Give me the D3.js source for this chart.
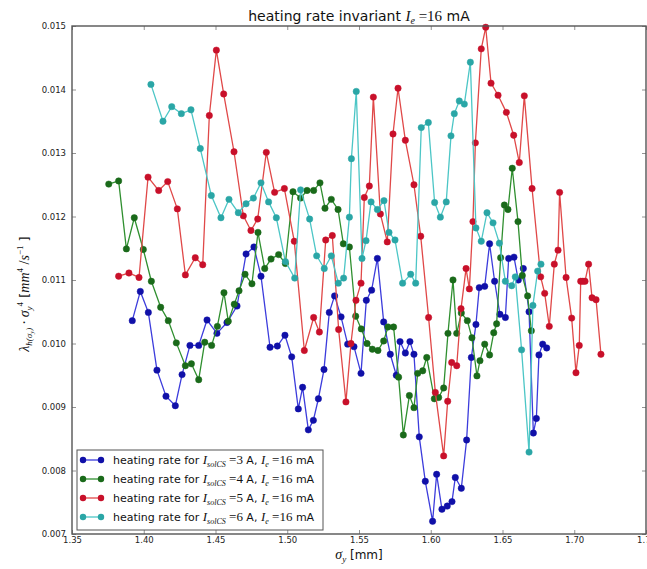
<!DOCTYPE html>
<html>
<head>
<meta charset="utf-8">
<script src="https://cdn.jsdelivr.net/npm/d3@7"></script>
<style>
  body { margin: 0; background: #fff; }
  svg { display: block; }
</style>
</head>
<body>
<script>
'use strict';

// sigma_y [mm] and heating rate invariant, one pair per solenoid current
const sigma3 = [1.3920, 1.3976, 1.4032, 1.4092, 1.4155, 1.4220, 1.4267, 1.4322, 1.4383, 1.4441,
  1.4510, 1.4580, 1.4650, 1.4713, 1.4768, 1.4817, 1.4880, 1.4931, 1.4984, 1.5031,
  1.5077, 1.5107, 1.5147, 1.5182, 1.5217, 1.5256, 1.5293, 1.5330, 1.5375, 1.5421,
  1.5465, 1.5514, 1.5551, 1.5588, 1.5628, 1.5672, 1.5718, 1.5760, 1.5786, 1.5823,
  1.5855, 1.5883, 1.5920, 1.5962, 1.6013, 1.6041, 1.6078, 1.6115, 1.6148, 1.6171,
  1.6213, 1.6250, 1.6283, 1.6315, 1.6338, 1.6376, 1.6410, 1.6445, 1.6482, 1.6520,
  1.6543, 1.6580, 1.6610, 1.6645, 1.6685, 1.6715, 1.6736, 1.6754, 1.6780, 1.6808];
const rate3 = [0.01036, 0.01082, 0.01049, 0.00958, 0.00917, 0.00902, 0.00951, 0.00997, 0.00997, 0.01037,
  0.01016, 0.01033, 0.01059, 0.01141, 0.01152, 0.01106, 0.00994, 0.00996, 0.01013, 0.00979,
  0.00897, 0.00931, 0.00864, 0.00879, 0.00913, 0.00959, 0.01049, 0.01075, 0.01042, 0.00999,
  0.00995, 0.00953, 0.01068, 0.01084, 0.01134, 0.01034, 0.00983, 0.00950, 0.01003, 0.00985,
  0.01003, 0.00983, 0.00853, 0.00783, 0.00720, 0.00794, 0.00739, 0.00744, 0.00751, 0.00789,
  0.00772, 0.00848, 0.00978, 0.01030, 0.01088, 0.01090, 0.01157, 0.01098, 0.01046, 0.01041,
  0.01134, 0.01136, 0.01100, 0.01118, 0.01050, 0.00859, 0.00882, 0.00982, 0.00999, 0.00993];

const sigma4 = [1.3756, 1.3825, 1.3879, 1.3934, 1.3997, 1.4053, 1.4118, 1.4171, 1.4227, 1.4290,
  1.4332, 1.4383, 1.4425, 1.4473, 1.4513, 1.4559, 1.4589, 1.4631, 1.4664, 1.4706,
  1.4754, 1.4796, 1.4843, 1.4887, 1.4940, 1.4987, 1.5040, 1.5093, 1.5138, 1.5184,
  1.5228, 1.5263, 1.5307, 1.5354, 1.5391, 1.5433, 1.5477, 1.5516, 1.5556, 1.5593,
  1.5632, 1.5672, 1.5702, 1.5741, 1.5776, 1.5809, 1.5851, 1.5883, 1.5909, 1.5944,
  1.5972, 1.6025, 1.6055, 1.6090, 1.6120, 1.6155, 1.6181, 1.6213, 1.6255, 1.6287,
  1.6322, 1.6343, 1.6376, 1.6410, 1.6439, 1.6459, 1.6487, 1.6513, 1.6538, 1.6568,
  1.6608, 1.6638, 1.6675, 1.6701];
const rate4 = [0.01251, 0.01256, 0.01149, 0.01198, 0.01148, 0.01098, 0.01057, 0.01036, 0.01001, 0.00965,
  0.00968, 0.00943, 0.01002, 0.00997, 0.01027, 0.01080, 0.01035, 0.01062, 0.01083, 0.01109,
  0.01094, 0.01175, 0.01118, 0.01133, 0.01140, 0.01126, 0.01239, 0.01229, 0.01241, 0.01241,
  0.01253, 0.01213, 0.01227, 0.01211, 0.01157, 0.01152, 0.01043, 0.01023, 0.01000, 0.00991,
  0.00989, 0.01004, 0.01026, 0.01026, 0.00947, 0.00856, 0.00918, 0.00899, 0.00953, 0.00957,
  0.00978, 0.00913, 0.00915, 0.00930, 0.01016, 0.01100, 0.01016, 0.01048, 0.01036, 0.01009,
  0.00949, 0.00973, 0.00999, 0.00982, 0.01017, 0.01031, 0.01135, 0.01218, 0.01211, 0.01276,
  0.01192, 0.01107, 0.01075, 0.01020];

const sigma5 = [1.3825, 1.3897, 1.3967, 1.4030, 1.4104, 1.4167, 1.4234, 1.4290, 1.4359, 1.4411,
  1.4457, 1.4506, 1.4557, 1.4629, 1.4694, 1.4747, 1.4794, 1.4854, 1.4912, 1.4980,
  1.5049, 1.5119, 1.5184, 1.5224, 1.5268, 1.5314, 1.5358, 1.5409, 1.5444, 1.5479,
  1.5514, 1.5537, 1.5572, 1.5600, 1.5649, 1.5697, 1.5737, 1.5772, 1.5823, 1.5883,
  1.5930, 1.5985, 1.6032, 1.6090, 1.6118, 1.6146, 1.6181, 1.6211, 1.6246, 1.6269,
  1.6294, 1.6311, 1.6352, 1.6383, 1.6420, 1.6469, 1.6527, 1.6578, 1.6617, 1.6652,
  1.6706, 1.6766, 1.6794, 1.6826, 1.6861, 1.6887, 1.6898, 1.6943, 1.6982, 1.7012,
  1.7035, 1.7045, 1.7060, 1.7075, 1.7100, 1.7124, 1.7152, 1.7186];
const rate5 = [0.01106, 0.01111, 0.01104, 0.01262, 0.01241, 0.01255, 0.01212, 0.01108, 0.01135, 0.01124,
  0.01359, 0.01462, 0.01393, 0.01302, 0.01201, 0.01178, 0.01196, 0.01301, 0.01238, 0.01244,
  0.01161, 0.00989, 0.01041, 0.01018, 0.01163, 0.01170, 0.01022, 0.00908, 0.01000, 0.01068,
  0.01095, 0.01230, 0.01248, 0.01388, 0.01204, 0.01160, 0.01330, 0.01402, 0.01320, 0.01250,
  0.01169, 0.01041, 0.00923, 0.00823, 0.00909, 0.00970, 0.00965, 0.01055, 0.01118, 0.01086,
  0.01192, 0.01316, 0.01464, 0.01498, 0.01410, 0.01391, 0.01364, 0.01328, 0.01285, 0.01390,
  0.01244, 0.01105, 0.01079, 0.01027, 0.01125, 0.01147, 0.01238, 0.01104, 0.01040, 0.00954,
  0.00997, 0.01098, 0.01098, 0.01098, 0.01125, 0.01072, 0.01069, 0.00983];

const sigma6 = [1.4050, 1.4134, 1.4195, 1.4262, 1.4329, 1.4394, 1.4471, 1.4538, 1.4594, 1.4659,
  1.4713, 1.4764, 1.4817, 1.4870, 1.4924, 1.4987, 1.5052, 1.5093, 1.5156, 1.5205,
  1.5258, 1.5307, 1.5356, 1.5393, 1.5433, 1.5447, 1.5481, 1.5521, 1.5549, 1.5584,
  1.5628, 1.5674, 1.5709, 1.5751, 1.5804, 1.5860, 1.5895, 1.5934, 1.5983, 1.6027,
  1.6067, 1.6108, 1.6141, 1.6164, 1.6199, 1.6234, 1.6276, 1.6315, 1.6352, 1.6392,
  1.6434, 1.6478, 1.6520, 1.6564, 1.6589, 1.6633, 1.6685, 1.6712, 1.6745, 1.6768];
const rate6 = [0.01408, 0.01350, 0.01373, 0.01362, 0.01368, 0.01307, 0.01233, 0.01198, 0.01227, 0.01206,
  0.01220, 0.01229, 0.01253, 0.01223, 0.01198, 0.01129, 0.01103, 0.01242, 0.01196, 0.01138,
  0.01118, 0.01138, 0.01095, 0.01103, 0.01199, 0.01291, 0.01397, 0.01134, 0.01162, 0.01223,
  0.01211, 0.01225, 0.01175, 0.01163, 0.01095, 0.01109, 0.01095, 0.01340, 0.01348, 0.01222,
  0.01199, 0.01223, 0.01327, 0.01362, 0.01382, 0.01377, 0.01443, 0.01182, 0.01161, 0.01206,
  0.01190, 0.01158, 0.01098, 0.01091, 0.01105, 0.00990, 0.00829, 0.01060, 0.01114, 0.01125];

const currents = [3, 4, 5, 6];              // I_solCS in A
const beamCurrent = 16;                     // I_e in mA
const xTicks = [1.35, 1.40, 1.45, 1.50, 1.55, 1.60, 1.65, 1.70, 1.75];
const yTicks = [0.007, 0.008, 0.009, 0.010, 0.011, 0.012, 0.013, 0.014, 0.015];

const lineColors = ['#3c3cdc', '#2f8f2f', '#e04848', '#4cc6c6'];
const dotColors = ['#1010a8', '#1a6a1a', '#c8102a', '#2aa6a6'];

const W = 647, H = 569;
const plotL = 72, plotR = 646, plotT = 26, plotB = 534;
const sans = 'DejaVu Sans, sans-serif';
const serif = 'Liberation Serif, serif';

const svg = d3.select('body').append('svg')
  .attr('width', W)
  .attr('height', H);

const x = d3.scaleLinear().domain([1.35, 1.75]).range([plotL, plotR]);
const y = d3.scaleLinear().domain([0.007, 0.015]).range([plotB, plotT]);

// axes: ticks point inward on all four sides, labels only bottom/left
function styleAxis(g) {
  g.select('.domain').remove();
  g.selectAll('.tick line').attr('stroke', '#777').attr('stroke-width', 0.8);
  g.selectAll('.tick text').attr('fill', '#222')
    .style('font-family', sans).style('font-size', '8.5px');
}
svg.append('g').attr('transform', `translate(0,${plotB})`)
  .call(d3.axisBottom(x).tickValues(xTicks).tickFormat(d3.format('.2f'))
    .tickSizeInner(-4).tickSizeOuter(0).tickPadding(3))
  .call(styleAxis);
svg.append('g').attr('transform', `translate(0,${plotT})`)
  .call(d3.axisTop(x).tickValues(xTicks).tickFormat('').tickSizeInner(-4).tickSizeOuter(0))
  .call(styleAxis);
svg.append('g').attr('transform', `translate(${plotL},0)`)
  .call(d3.axisLeft(y).tickValues(yTicks).tickFormat(d3.format('.3f'))
    .tickSizeInner(-4).tickSizeOuter(0).tickPadding(6))
  .call(styleAxis);
svg.append('g').attr('transform', `translate(${plotR},0)`)
  .call(d3.axisRight(y).tickValues(yTicks).tickFormat('').tickSizeInner(-4).tickSizeOuter(0))
  .call(styleAxis);

// clip so lines never leave the frame
svg.append('clipPath').attr('id', 'plot')
  .append('rect').attr('x', plotL).attr('y', plotT - 4)
  .attr('width', plotR - plotL).attr('height', plotB - plotT + 4);

const series = [
  { sx: sigma3, ry: rate3 },
  { sx: sigma4, ry: rate4 },
  { sx: sigma5, ry: rate5 },
  { sx: sigma6, ry: rate6 }
];

const line = d3.line().x(d => x(d[0])).y(d => y(d[1]));
const plot = svg.append('g').attr('clip-path', 'url(#plot)');

series.forEach((s, i) => {
  const pts = s.sx.map((v, j) => [v, s.ry[j]]);
  const g = plot.append('g');
  g.append('path')
    .attr('d', line(pts))
    .attr('fill', 'none')
    .attr('stroke', lineColors[i])
    .attr('stroke-width', 1.3);
  g.selectAll('circle')
    .data(pts)
    .enter()
    .append('circle')
      .attr('cx', d => x(d[0]))
      .attr('cy', d => y(d[1]))
      .attr('r', 3.2)
      .attr('fill', dotColors[i])
      .attr('stroke', dotColors[i])
      .attr('stroke-width', 0.5);
});

// frame
svg.append('rect')
  .attr('x', plotL).attr('y', plotT)
  .attr('width', plotR - plotL).attr('height', plotB - plotT)
  .attr('fill', 'none')
  .attr('stroke', '#555')
  .attr('stroke-width', 1.4);

// write a mathtext-like label from pieces: [text, font, italic, size, baseline shift]
function mathText(sel, parts) {
  let cur = 0;
  parts.forEach(p => {
    const shift = p[4] || 0;
    sel.append('tspan')
      .attr('dy', shift - cur)
      .style('font-family', p[1] === 'serif' ? serif : sans)
      .style('font-style', p[2] ? 'italic' : 'normal')
      .style('font-size', p[3] + 'px')
      .text(p[0]);
    cur = shift;
  });
}

// title
mathText(svg.append('text')
  .attr('x', (plotL + plotR) / 2).attr('y', 21)
  .attr('text-anchor', 'middle').attr('fill', '#111'), [
  ['heating rate invariant ', 'sans', false, 14],
  ['I', 'serif', true, 15],
  ['e', 'serif', true, 10, 3],
  [' =', 'serif', false, 15],
  [String(beamCurrent), 'serif', false, 15],
  [' mA', 'sans', false, 14]
]);

// x label
mathText(svg.append('text')
  .attr('x', (plotL + plotR) / 2).attr('y', 559)
  .attr('text-anchor', 'middle').attr('fill', '#111'), [
  ['σ', 'serif', true, 14],
  ['y', 'serif', true, 9, 3],
  [' [mm]', 'sans', false, 12]
]);

// y label
mathText(svg.append('text')
  .attr('transform', 'translate(29,294) rotate(-90)')
  .attr('text-anchor', 'middle').attr('fill', '#111'), [
  ['λ', 'serif', true, 14],
  ['h(σ', 'serif', true, 9, 3],
  ['y', 'serif', true, 6.5, 5],
  [')', 'serif', true, 9, 3],
  [' · σ', 'serif', true, 14],
  ['y', 'serif', true, 9, 3],
  ['4', 'serif', false, 9, -6],
  ['  [', 'sans', false, 13],
  ['mm', 'serif', true, 14],
  ['4', 'serif', false, 9, -6],
  [' /', 'serif', false, 14],
  ['s', 'serif', true, 14],
  ['−1', 'serif', false, 9, -6],
  [' ]', 'sans', false, 13]
]);

// legend
const legend = svg.append('g');
legend.append('rect')
  .attr('x', 77).attr('y', 450).attr('width', 246).attr('height', 80)
  .attr('fill', '#fff').attr('stroke', '#555').attr('stroke-width', 1);

currents.forEach((c, i) => {
  const cy = 460 + i * 19;
  const row = legend.append('g');
  row.append('line')
    .attr('x1', 83).attr('x2', 101).attr('y1', cy).attr('y2', cy)
    .attr('stroke', lineColors[i]).attr('stroke-width', 1.3);
  row.selectAll('circle').data([83, 101]).enter().append('circle')
    .attr('cx', d => d).attr('cy', cy).attr('r', 3.2)
    .attr('fill', dotColors[i]);
  mathText(row.append('text').attr('x', 113).attr('y', cy + 4).attr('fill', '#111'), [
    ['heating rate for ', 'sans', false, 11],
    ['I', 'serif', true, 13],
    ['solCS', 'serif', true, 8, 3],
    [' =', 'serif', false, 13],
    [String(c), 'serif', false, 13],
    [' A, ', 'sans', false, 11],
    ['I', 'serif', true, 13],
    ['e', 'serif', true, 8, 3],
    [' =', 'serif', false, 13],
    [String(beamCurrent), 'serif', false, 13],
    [' mA', 'sans', false, 11]
  ]);
});
</script>
</body>
</html>
